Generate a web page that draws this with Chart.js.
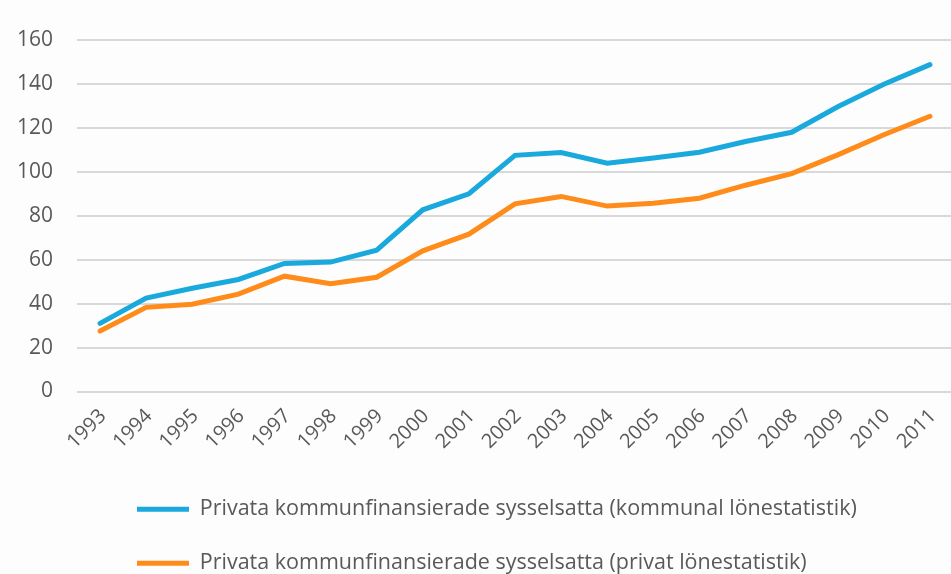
<!DOCTYPE html>
<html>
<head>
<meta charset="utf-8">
<script src="https://cdn.jsdelivr.net/npm/chart.js@4/dist/chart.umd.min.js"></script>
<style>
  html, body { margin: 0; padding: 0; background: #fdfdfd; overflow: hidden; }
  canvas { display: block; }
</style>
</head>
<body>
<canvas id="lineChart" width="960" height="584"></canvas>
<script>
// years on the x axis
const years = ['1993', '1994', '1995', '1996', '1997', '1998', '1999', '2000', '2001', '2002',
               '2003', '2004', '2005', '2006', '2007', '2008', '2009', '2010', '2011'];

// series
const kommunalStats = [31, 42.5, 47, 51, 58.3, 58.9, 64.3, 82.7, 90, 107.5,
                       108.8, 103.9, 106.3, 108.9, 113.8, 118, 129.6, 139.9, 148.8];
const privatStats = [27.5, 38.3, 39.7, 44.3, 52.5, 49.1, 52, 64, 71.6, 85.4,
                     88.8, 84.4, 85.7, 88, 93.9, 99.2, 107.7, 116.9, 125.3];

const seriesNames = [
  'Privata kommunfinansierade sysselsatta (kommunal lönestatistik)',
  'Privata kommunfinansierade sysselsatta (privat lönestatistik)'
];

const textColor = '#595959';
const fontFamily = "'Open Sans', sans-serif";

// move the legend rows so they start at the left like the original
const legendShift = {
  id: 'legendShift',
  afterLayout(chart) {
    const lg = chart.legend;
    const w = lg.right - lg.left;
    lg.left = 137 - 32.5;
    lg.right = lg.left + w;
  }
};

window.onload = function() {
  const ctx = document.getElementById('lineChart').getContext('2d');

  new Chart(ctx, {
    type: 'line',
    data: {
      labels: years,
      datasets: [{
        label: seriesNames[0],
        data: kommunalStats,
        borderColor: '#1aa9dc',
        backgroundColor: '#1aa9dc',
        borderWidth: 5,
        borderCapStyle: 'round',
        pointRadius: 0,
        tension: 0
      }, {
        label: seriesNames[1],
        data: privatStats,
        borderColor: '#ff8c1a',
        backgroundColor: '#ff8c1a',
        borderWidth: 5,
        borderCapStyle: 'round',
        pointRadius: 0,
        tension: 0
      }]
    },
    options: {
      responsive: false,
      animation: false,
      layout: { padding: { top: 40, left: 0, right: 3, bottom: 0 } },
      plugins: {
        tooltip: { enabled: false },
        legend: {
          position: 'bottom',
          align: 'start',
          labels: {
            usePointStyle: true,
            pointStyle: 'line',
            pointStyleWidth: 52,
            padding: 32.5,
            color: textColor,
            font: { family: fontFamily, size: 21.5 }
          }
        }
      },
      scales: {
        x: {
          offset: true,
          grid: { display: false, drawTicks: false },
          border: { display: false },
          ticks: {
            minRotation: 45,
            maxRotation: 45,
            padding: 13,
            labelOffset: 3,
            color: textColor,
            font: { family: fontFamily, size: 20 }
          },
          afterFit(scale) { scale.height = 74.5; }
        },
        y: {
          min: 0,
          max: 160,
          grid: { color: '#d9d9d9', lineWidth: 2, drawTicks: false },
          border: { display: false },
          ticks: {
            stepSize: 20,
            padding: 24,
            color: textColor,
            font: { family: fontFamily, size: 21 }
          },
          afterFit(scale) { scale.width = 77; }
        }
      }
    },
    plugins: [legendShift]
  });
};
</script>
</body>
</html>
